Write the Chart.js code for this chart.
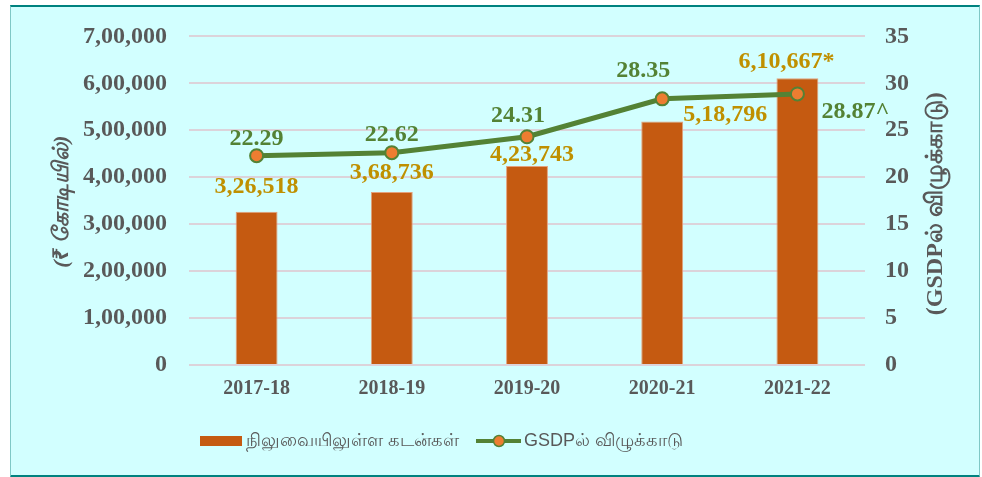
<!DOCTYPE html>
<html>
<head>
<meta charset="utf-8">
<script src="https://cdn.jsdelivr.net/npm/chart.js@4.4.0/dist/chart.umd.min.js"></script>
<style>
  body { margin: 0; background: #ffffff; }
  #frame {
    position: absolute; left: 10px; top: 5px; width: 968px; height: 468px;
    background: #d2ffff; border: 1px solid #7fc8c6; border-bottom: 3px solid #00827f; border-top: 2px solid #00827f;
  }
  #chartBox { position: absolute; left: 0; top: 0; width: 982px; height: 477px; }
</style>
</head>
<body>
<div id="frame"></div>
<div id="chartBox"><canvas id="debtChart" width="982" height="477"></canvas></div>
<script>
// data
const years = ['2017-18', '2018-19', '2019-20', '2020-21', '2021-22'];
const debtValues = [326518, 368736, 423743, 518796, 610667];
const gsdpShare = [22.29, 22.62, 24.31, 28.35, 28.87];
const debtLabelSuffix = ['', '', '', '', '*'];
const gsdpLabelSuffix = ['', '', '', '', '^'];
const seriesNames = ['நிலுவையிலுள்ள கடன்கள்', 'GSDPல் விழுக்காடு'];
const leftTitle = '(₹ கோடியில்)';
const rightTitle = '(GSDPல் விழுக்காடு)';

const BAR_COLOR = '#c55a11';
const LINE_COLOR = '#548235';
const POINT_COLOR = '#ed7d31';
const GOLD = '#bf9000';
const GREY = '#595959';
const SERIF = '"Liberation Serif", "Times New Roman", "Noto Sans", serif';
const SANS = '"Liberation Sans", Arial, "Noto Sans", sans-serif';

// indian style grouping 6,10,667
function inr(n) {
    const s = String(Math.round(n));
    if (s.length <= 3) return s;
    let last3 = s.slice(-3);
    let rest = s.slice(0, -3);
    rest = rest.replace(/\B(?=(\d{2})+(?!\d))/g, ',');
    return rest + ',' + last3;
}

// where each label sits relative to its bar top / point
const barLabelShift = [[0, -25], [0, -19], [5, -11], [63, -7], [-11, -17]];
const lineLabelShift = [[0, -17], [0, -18], [-9, -21], [-19, -28], [58, 18]];

const labelsPlugin = {
    id: 'valueLabels',
    afterDatasetsDraw(chart) {
        const ctx = chart.ctx;
        ctx.save();
        ctx.font = 'bold 24px ' + SERIF;
        ctx.textAlign = 'center';
        ctx.textBaseline = 'middle';

        const barMeta = chart.getDatasetMeta(0);
        barMeta.data.forEach((bar, i) => {
            ctx.fillStyle = GOLD;
            ctx.fillText(inr(debtValues[i]) + debtLabelSuffix[i], bar.x + barLabelShift[i][0], bar.y + barLabelShift[i][1]);
        });

        const lineMeta = chart.getDatasetMeta(1);
        lineMeta.data.forEach((pt, i) => {
            ctx.fillStyle = LINE_COLOR;
            ctx.fillText(gsdpShare[i].toFixed(2) + gsdpLabelSuffix[i], pt.x + lineLabelShift[i][0], pt.y + lineLabelShift[i][1]);
        });
        ctx.restore();
    }
};

const titlesAndLegend = {
    id: 'titlesAndLegend',
    afterDraw(chart) {
        const ctx = chart.ctx;
        const area = chart.chartArea;
        const midY = (area.top + area.bottom) / 2;
        ctx.save();
        ctx.fillStyle = GREY;
        ctx.textAlign = 'center';
        ctx.textBaseline = 'middle';

        // left axis title
        ctx.save();
        ctx.translate(62, midY + 1);
        ctx.rotate(-Math.PI / 2);
        ctx.font = 'italic bold 22px ' + SERIF;
        ctx.fillText(leftTitle, 0, 0);
        ctx.restore();

        // right axis title (reads bottom to top as well)
        ctx.save();
        ctx.translate(936, midY + 3);
        ctx.rotate(-Math.PI / 2);
        ctx.font = 'bold 24px ' + SERIF;
        ctx.fillText(rightTitle, 0, 0);
        ctx.restore();

        // legend
        const ly = 441;
        ctx.font = '18px ' + SANS;
        ctx.textAlign = 'left';
        ctx.fillStyle = BAR_COLOR;
        ctx.fillRect(200, ly - 5, 42, 10);
        ctx.fillStyle = GREY;
        ctx.fillText(seriesNames[0], 246, ly);

        ctx.strokeStyle = LINE_COLOR;
        ctx.lineWidth = 4;
        ctx.beginPath();
        ctx.moveTo(476, ly);
        ctx.lineTo(521, ly);
        ctx.stroke();
        ctx.beginPath();
        ctx.arc(499, ly, 5.5, 0, Math.PI * 2);
        ctx.fillStyle = POINT_COLOR;
        ctx.fill();
        ctx.lineWidth = 1.5;
        ctx.stroke();
        ctx.fillStyle = GREY;
        ctx.fillText(seriesNames[1], 524, ly);
        ctx.restore();
    }
};

const ctx = document.getElementById('debtChart').getContext('2d');
const chartInstance = new Chart(ctx, {
    type: 'bar',
    data: {
        labels: years,
        datasets: [{
            type: 'bar',
            label: seriesNames[0],
            data: debtValues,
            yAxisID: 'y',
            backgroundColor: BAR_COLOR,
            borderColor: '#e3a17c',
            borderWidth: 1,
            barPercentage: 0.31,
            categoryPercentage: 1,
            order: 2
        }, {
            type: 'line',
            label: seriesNames[1],
            data: gsdpShare,
            yAxisID: 'y1',
            borderColor: LINE_COLOR,
            borderWidth: 5,
            pointRadius: 6.5,
            pointBackgroundColor: POINT_COLOR,
            pointBorderColor: LINE_COLOR,
            pointBorderWidth: 2,
            tension: 0,
            order: 1
        }]
    },
    options: {
        responsive: false,
        animation: false,
        layout: { padding: { left: 80, right: 60, top: 28, bottom: 72 } },
        plugins: {
            legend: { display: false },
            tooltip: { enabled: false }
        },
        scales: {
            x: {
                grid: { display: false },
                border: { display: false },
                ticks: {
                    color: GREY,
                    padding: 4,
                    font: { family: SERIF, size: 20, weight: 'bold' }
                },
                afterFit: (scale) => { scale.height = 40; }
            },
            y: {
                position: 'left',
                min: 0,
                max: 700000,
                grid: { color: '#dcd3da', lineWidth: 2, drawTicks: false },
                border: { display: false },
                ticks: {
                    stepSize: 100000,
                    padding: 22,
                    color: GREY,
                    font: { family: SERIF, size: 24, weight: 'bold' },
                    callback: (v) => inr(v)
                },
                afterFit: (scale) => { scale.width = 109; }
            },
            y1: {
                position: 'right',
                min: 0,
                max: 35,
                grid: { drawOnChartArea: false, drawTicks: false },
                border: { display: false },
                ticks: {
                    stepSize: 5,
                    padding: 20,
                    color: GREY,
                    font: { family: SERIF, size: 24, weight: 'bold' }
                },
                afterFit: (scale) => { scale.width = 57; }
            }
        }
    },
    plugins: [labelsPlugin, titlesAndLegend]
});
</script>
</body>
</html>
